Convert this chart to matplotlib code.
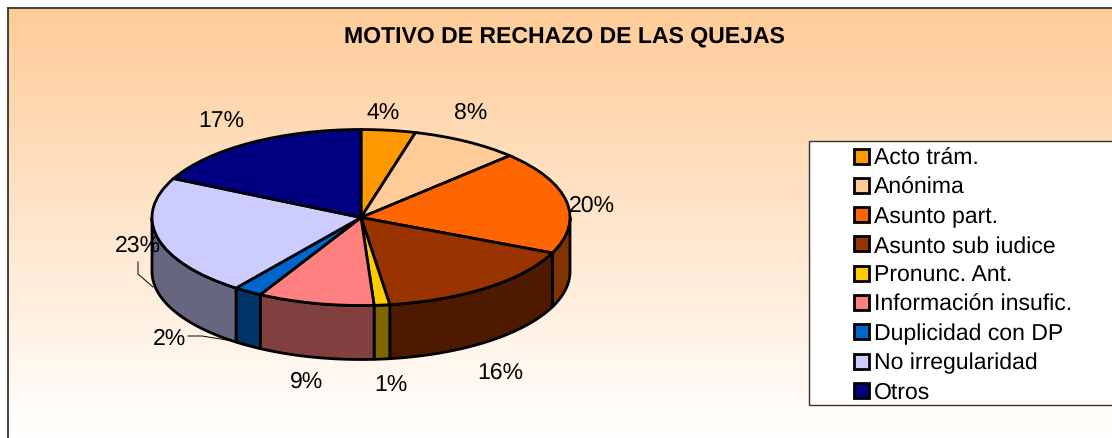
import numpy as np
import matplotlib
matplotlib.use("Agg")
import matplotlib.pyplot as plt
from matplotlib.colors import to_rgb
from matplotlib.patches import Polygon, Rectangle, Wedge
from matplotlib.transforms import Affine2D

plt.rcParams['font.family'] = ['Liberation Sans', 'DejaVu Sans']
plt.rcParams['text.hinting'] = 'none'
plt.rcParams['text.hinting_factor'] = 1

categories = ["Acto trám.", "Anónima", "Asunto part.", "Asunto sub iudice", "Pronunc. Ant.",
              "Información insufic.", "Duplicidad con DP", "No irregularidad", "Otros"]
values = [4.2, 8.4, 19.0, 16.2, 1.2, 9.0, 2.2, 22.1, 17.7]
pct_labels = ["4%", "8%", "20%", "16%", "1%", "9%", "2%", "23%", "17%"]
colors = ["#FF9900", "#FFCC99", "#FF6600", "#993300", "#FFCC00", "#FF8080", "#0066CC", "#CCCCFF", "#000080"]

# pie geometry in image pixels
cx, cy = 361, 218.5
rx, ry = 209, 88
depth = 54
label_xy = [(383, 114), (471, 113), (592, 206), (500, 373), (391, 386),
            (307, 382), (169, 339), (138, 246), (221, 122)]

fig = plt.figure(figsize=(11.12, 4.39), dpi=100)
ax = fig.add_axes([0, 0, 1, 1])
ax.set_xlim(0, 1112)
ax.set_ylim(439, 0)
ax.axis("off")

# background gradient
top = np.array(to_rgb("#FFCC99"))
bottom = np.array([1.0, 1.0, 1.0])
t = np.linspace(0, 1, 256)[:, None, None]
grad = top * (1 - t) + bottom * t
ax.imshow(grad, extent=(8, 1112, 439, 9), aspect="auto", zorder=0)
ax.set_xlim(0, 1112)
ax.set_ylim(439, 0)
ax.plot([7.5, 7.5], [439, 8.5], color="#222222", lw=1.2, zorder=1)
ax.plot([7.5, 1112], [8.5, 8.5], color="#222222", lw=1.2, zorder=1)

ax.text(564.5, 36.5, "MOTIVO DE RECHAZO DE LAS QUEJAS", fontsize=16.6, fontweight="bold",
        ha="center", va="center", color="black")


def ell(a):
    # a: clockwise degrees from the top of the pie
    r = np.radians(a)
    return cx + rx * np.sin(r), cy - ry * np.cos(r)


edges = np.concatenate([[0], np.cumsum(values)]) / np.sum(values) * 360

# side walls
for i, c in enumerate(colors):
    a0, a1 = max(edges[i], 90), min(edges[i + 1], 270)
    if a1 <= a0:
        continue
    aa = np.linspace(a0, a1, 60)
    xs, ys = ell(aa)
    pts = np.concatenate([np.column_stack([xs, ys]),
                          np.column_stack([xs[::-1], ys[::-1] + depth])])
    dark = tuple(np.array(to_rgb(c)) * 0.5)
    ax.add_patch(Polygon(pts, closed=True, facecolor=dark, edgecolor="black", lw=2,
                         joinstyle="round", zorder=2))

# top wedges
tr = Affine2D().scale(rx, ry).translate(cx, cy) + ax.transData
for i, c in enumerate(colors):
    # unit circle in y-down axes: angle measured from +x toward +y (clockwise on screen)
    ax.add_patch(Wedge((0, 0), 1, edges[i] - 90, edges[i + 1] - 90, facecolor=c, edgecolor="black",
                       lw=2, transform=tr, zorder=3))

# leader lines
ax.plot([138, 138, 153], [263, 275, 288], color="black", lw=0.7, zorder=4)
ax.plot([188, 202, 233], [337, 337, 342], color="black", lw=0.7, zorder=4)

for (x, y), s in zip(label_xy, pct_labels):
    ax.text(x, y, s, fontsize=16.5, ha="center", va="center", color="black", zorder=5)

# legend
ax.add_patch(Rectangle((808.5, 142), 320, 264, facecolor="white", edgecolor="#333333", lw=1, zorder=2))
row_y = 157 + 29.3 * np.arange(len(categories))
for y, name, c in zip(row_y, categories, colors):
    ax.add_patch(Rectangle((854, y - 7.5), 15, 15, facecolor=c, edgecolor="black", lw=2, zorder=3))
    ax.text(874, y + 1.5, name, fontsize=16.5, ha="left", va="center", color="black", zorder=3)

fig.savefig("out.png", dpi=100)
